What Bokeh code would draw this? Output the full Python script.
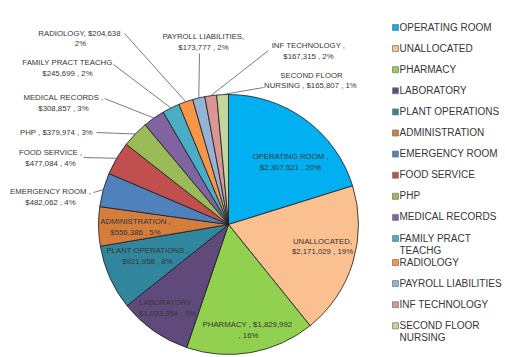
import math
from bokeh.plotting import figure
from bokeh.models import Range1d, ColumnDataSource
from bokeh.core.properties import value
from bokeh.embed import file_html
from bokeh.resources import INLINE

# ---------------- data ----------------
departments = ["OPERATING ROOM", "UNALLOCATED", "PHARMACY", "LABORATORY",
               "PLANT OPERATIONS", "ADMINISTRATION", "EMERGENCY ROOM",
               "FOOD SERVICE", "PHP", "MEDICAL RECORDS", "FAMILY PRACT TEACHG",
               "RADIOLOGY", "PAYROLL LIABILITIES", "INF TECHNOLOGY",
               "SECOND FLOOR NURSING"]
amounts = [2307521, 2171029, 1829992, 1033354, 921958, 556386, 482062,
           477084, 379974, 308857, 245699, 204638, 173777, 167315, 165807]
percent_labels = ["20%", "19%", "16%", "9%", "8%", "5%", "4%", "4%", "3%",
                  "3%", "2%", "2%", "2%", "2%", "1%"]
colors = ["#00B0F0", "#FAC090", "#92D050", "#604A7B", "#31859C", "#D47D3C",
          "#4F81BD", "#C0504D", "#9BBB59", "#8064A2", "#4BACC6", "#F79646",
          "#95B3D7", "#D99694", "#C3D69B"]

# ---------------- layout ----------------
W, H = 505, 357
CX, CY, R = 228, H - 224, 130
FONT = value("Liberation Sans")
TXT = "#363636"

def wrap(name):
    return {"FAMILY PRACT TEACHG": "FAMILY PRACT\nTEACHG",
            "SECOND FLOOR NURSING": "SECOND FLOOR\nNURSING"}.get(name, name)

label_templates = [
    "{n} ,\n{v} , {p}", "{n},\n{v} , {p}", "{n} ,  {v}\n, {p}", "{n} ,\n{v} , {p}",
    "{n} ,\n{v} , {p}", "{n} ,\n{v} , {p}", "{n} ,\n{v} , {p}", "{n} ,\n{v} , {p}",
    "{n} ,  {v} , {p}", "{n} ,\n{v} , {p}", "{n}\n{v} , {p}", "{n},  {v}\n{p}",
    "{n},\n{v} , {p}", "{n} ,\n{v} , {p}", "{w} ,  {v} , {p}",
]
# label centres in page pixels (x, y from top)
label_pos = [(290, 161.5), (322, 246), (248, 329.5), (167, 307.5), (147, 255.5),
             (135, 226.5), (50, 196.5), (50, 157.5), (57, 132), (63, 102.5),
             (67, 67.5), (80, 38), (203, 41.5), (308, 50.5), (311, 80)]
# start of leader line (page pixels) for outside labels, None = inside label
leader_start = [None, None, None, None, None, None, (93, 192), (83, 157),
                (96, 132), (104, 98), (113, 64), (124, 33), (199, 53),
                (268, 50), (263, 87)]

total = sum(amounts)
starts, ends, mids = [], [], []
cum = 0
for a in amounts:
    f0 = cum / total
    cum += a
    f1 = cum / total
    starts.append(math.pi / 2 - 2 * math.pi * f1)
    ends.append(math.pi / 2 - 2 * math.pi * f0)
    mids.append(math.pi / 2 - 2 * math.pi * (f0 + f1) / 2)

p = figure(width=W, height=H, x_range=Range1d(0, W), y_range=Range1d(0, H),
           x_axis_type=None, y_axis_type=None, toolbar_location=None,
           output_backend="svg", min_border=0)
p.grid.visible = False
p.outline_line_color = None
p.background_fill_color = "white"

src = ColumnDataSource(dict(start=starts, end=ends, color=colors))
p.wedge(x=CX, y=CY, radius=R, start_angle="start", end_angle="end",
        fill_color="color", line_color="#1a1a1a", line_width=0.8, source=src)

# labels
texts, lx, ly = [], [], []
for i, name in enumerate(departments):
    t = label_templates[i].format(n=name, w=wrap(name),
                                  v="${:,}".format(amounts[i]),
                                  p=percent_labels[i])
    texts.append(t)
    lx.append(label_pos[i][0])
    ly.append(H - label_pos[i][1])
p.text(x=lx, y=ly, text=texts, text_font=FONT, text_font_size="7.8px",
       text_color=TXT, text_align="center", text_baseline="middle",
       text_line_height=1.15)

# leader lines
x0, y0, x1, y1 = [], [], [], []
for i, s in enumerate(leader_start):
    if s is None:
        continue
    x0.append(s[0])
    y0.append(H - s[1])
    x1.append(CX + R * math.cos(mids[i]))
    y1.append(CY + R * math.sin(mids[i]))
p.segment(x0=x0, y0=y0, x1=x1, y1=y1, line_color="#595959", line_width=0.8)

# legend (drawn manually)
leg_y, y = [], 27
for name in departments:
    leg_y.append(H - y)
    y += 24 if "\n" in wrap(name) else 21.1
p.scatter(x=[395] * len(departments), y=leg_y, marker="square", size=6,
          fill_color=colors, line_color="#7f7f7f", line_width=0.8)
p.text(x=[399] * len(departments), y=[v + 6 for v in leg_y],
       text=[wrap(n) for n in departments], text_font=FONT,
       text_font_size="10px", text_color=TXT, text_align="left",
       text_baseline="top", text_line_height=1.15)

open("out.html", "w").write(file_html(p, INLINE))
